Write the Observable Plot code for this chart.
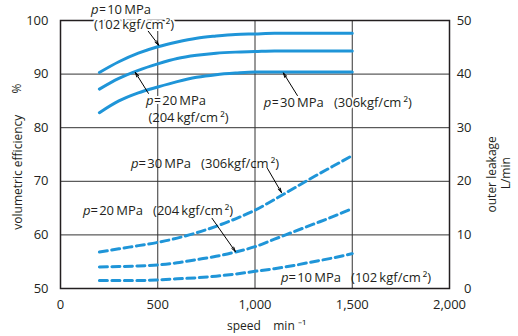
<!DOCTYPE html>
<html><head><meta charset="utf-8">
<script src="https://cdn.jsdelivr.net/npm/d3@7"></script>
<script src="https://cdn.jsdelivr.net/npm/@observablehq/plot@0.6"></script>
<style>
body{margin:0;background:#fff}
#chart svg{font-family:"Open Sans",sans-serif;overflow:visible}
</style>
</head><body><div id="chart"></div>
<script>
// speed (min^-1)
const speeds = [200,300,400,500,600,700,800,900,1000,1100,1200,1300,1400,1500];
// volumetric efficiency (%) — left axis
const eff10 = [90.3,92.3,93.9,95.1,96.0,96.7,97.1,97.4,97.5,97.6,97.6,97.6,97.6,97.6];
const eff20 = [87.2,89.2,90.7,91.9,92.9,93.5,93.9,94.1,94.2,94.3,94.3,94.3,94.3,94.3];
const eff30 = [82.8,85.0,86.5,87.6,88.6,89.4,89.9,90.2,90.4,90.4,90.4,90.4,90.4,90.4];
// outer leakage (L/min) — right axis
const leak10 = [1.5,1.5,1.5,1.6,1.8,2.0,2.3,2.7,3.2,3.7,4.3,5.0,5.7,6.5];
const leak20 = [4.0,4.1,4.2,4.4,4.8,5.4,6.0,6.8,7.8,9.2,10.6,12.0,13.4,14.9];
const leak30 = [6.8,7.4,8.0,8.6,9.4,10.4,11.6,13.0,14.6,16.6,18.7,20.8,22.8,24.8];

const xTicks = [0,500,1000,1500,2000];
const yTicks = [50,60,70,80,90,100];
const leakTicks = [0,10,20,30,40,50];
const leakOffset = 50; // right axis 0..50 shares the 50..100 range of the left axis
const gridXs = [500,1000,1500];
const gridYs = [60,70,80,90];

const th = "\u2009", hs = "\u200a", gap = "\u00a0\u00a0\u00a0";
// annotation labels (speed, left-axis value); p = italic "p" prefix; halo = white background
const labels = [
  {speed:195, value:101.95, p:true,  halo:true,  text:`=${hs}10${th}MPa`},
  {speed:172, value:99.15,  p:false, halo:true,  text:`(102${th}kgf/cm${th}²)`},
  {speed:478, value:85.1,  p:true,  halo:true,  text:`=${hs}20${th}MPa`},
  {speed:452, value:81.9,  p:false, halo:false, text:`(204${th}kgf/cm${th}²)`},
  {speed:1084,value:84.7,  p:true,  halo:true,  text:`=${hs}30${th}MPa${gap}(306kgf/cm${th}²)`},
  {speed:401, value:73.2,  p:true,  halo:false, text:`=${hs}30${th}MPa${gap}(306kgf/cm${th}²)`},
  {speed:154, value:64.4,  p:true,  halo:false, text:`=${hs}20${th}MPa${gap}(204${th}kgf/cm${th}²)`},
  {speed:1172,value:51.9,  p:true,  halo:false, text:`=${hs}10${th}MPa${gap}(102${th}kgf/cm${th}²)`}
];
const arrows = [
  {s1:447, v1:98.2, s2:505, v2:95.4},
  {s1:452, v1:86.4, s2:385, v2:90.3},
  {s1:1218,v1:86.0, s2:1146,v2:90.2},
  {s1:1064,v1:72.4, s2:1136,v2:67.9},
  {s1:779, v1:63.1, s2:899, v2:56.9}
];
// axis titles (speed, left-axis value, rotation)
const titles = [
  {speed:1059, value:43.0, rotate:0,   text:"speed\u00a0\u00a0\u00a0\u00a0min ⁻¹"},
  {speed:-216, value:71.7, rotate:-90, text:"volumetric efficiency"},
  {speed:-221, value:87.3, rotate:-90, text:"%"},
  {speed:2220, value:71.3, rotate:-90, text:"outer leakage"},
  {speed:2290, value:71.5, rotate:-90, text:"L/min"}
];

const solid = [["10",eff10],["20",eff20],["30",eff30]]
  .flatMap(([p,v]) => speeds.map((s,i) => ({p, speed:s, value:v[i]})));
const dashed = [["10",leak10],["20",leak20],["30",leak30]]
  .flatMap(([p,v]) => speeds.map((s,i) => ({p, speed:s, value:v[i] + leakOffset})));

const blue = "#1f95d8";
const ink = "#231f20";
const textMarks = (data) => [
  Plot.text(data, {x: "speed", y: "value", text: "text", textAnchor: "start", fontSize: 13, fill: ink,
    stroke: d => d.halo ? "white" : "none", strokeWidth: 4}),
  Plot.text(data.filter(d => d.p), {x: "speed", y: "value", text: () => "p", textAnchor: "end", fontSize: 13, fontStyle: "italic", fill: ink,
    stroke: d => d.halo ? "white" : "none", strokeWidth: 4})
];

const chart = Plot.plot({
  width: 518, height: 336,
  marginLeft: 60, marginRight: 69, marginTop: 20, marginBottom: 48,
  style: {fontFamily: "'Open Sans', sans-serif", fontSize: "13px", color: ink, background: "#fff"},
  x: {domain: [0, 2000]},
  y: {domain: [50, 100]},
  marks: [
    Plot.ruleX(gridXs, {stroke: "#333", strokeWidth: 1}),
    Plot.ruleY(gridYs, {stroke: "#333", strokeWidth: 1}),
    Plot.frame({stroke: ink, strokeWidth: 1.5}),
    Plot.axisX(xTicks, {tickSize: 0, tickPadding: 11, tickFormat: d3.format(","), fontSize: 13, label: null}),
    Plot.axisY(yTicks, {anchor: "left", tickSize: 0, tickPadding: 12, fontSize: 13, label: null}),
    Plot.axisY(leakTicks.map(d => d + leakOffset), {anchor: "right", tickSize: 0, tickPadding: 22, textAnchor: "end", fontSize: 13, label: null, tickFormat: d => d - leakOffset}),
    Plot.line(solid, {x: "speed", y: "value", z: "p", stroke: blue, strokeWidth: 3, curve: "monotone-x"}),
    Plot.line(dashed, {x: "speed", y: "value", z: "p", stroke: blue, strokeWidth: 3, strokeDasharray: "8,4.5", curve: "monotone-x"}),
    Plot.arrow(arrows, {x1: "s1", y1: "v1", x2: "s2", y2: "v2", stroke: "#000", strokeWidth: 1, headLength: 7, headAngle: 30}),
    ...textMarks(labels),
    Plot.text(titles, {x: "speed", y: "value", text: "text", rotate: "rotate", fontSize: 12, fill: ink})
  ]
});
document.getElementById("chart").append(chart);
</script>
</body></html>
